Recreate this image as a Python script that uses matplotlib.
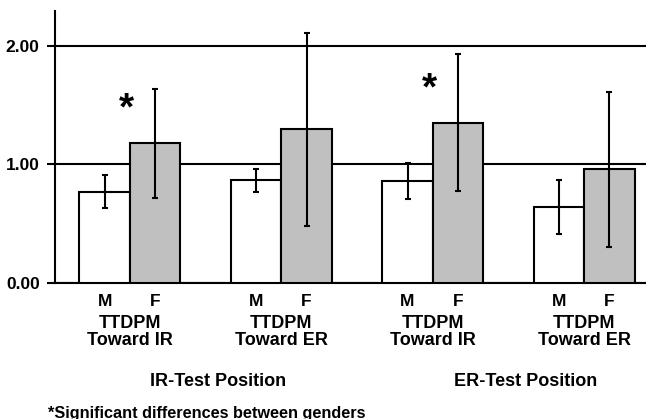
import matplotlib.pyplot as plt
import numpy as np

plt.rcParams['font.family'] = ['Liberation Sans', 'DejaVu Sans']

# values (mean with lower / upper error bar ends)
groups = ['TTDPM\nToward IR', 'TTDPM\nToward ER', 'TTDPM\nToward IR', 'TTDPM\nToward ER']
positions = ['IR-Test Position', 'ER-Test Position']
male = [0.77, 0.87, 0.86, 0.64]
male_lo = [0.63, 0.77, 0.71, 0.41]
male_hi = [0.91, 0.96, 1.01, 0.87]
female = [1.18, 1.30, 1.35, 0.96]
female_lo = [0.72, 0.48, 0.78, 0.30]
female_hi = [1.64, 2.11, 1.93, 1.61]
significant = [True, False, True, False]
yticks = [0.0, 1.0, 2.0]

W, H = 646, 419
fig = plt.figure(figsize=(W / 100, H / 100), dpi=100)
ax = fig.add_axes([55 / W, 1 - 283 / H, 1 - 55 / W, (283 - 11) / H])

x = np.arange(len(groups))
bw = 1 / 3
m = np.array(male)
f = np.array(female)

ax.bar(x - bw / 2, m, bw, color='white', edgecolor='black', linewidth=1.5, zorder=3)
ax.bar(x + bw / 2, f, bw, color='#c0c0c0', edgecolor='black', linewidth=1.5, zorder=3)
ax.errorbar(x - bw / 2, m, yerr=[m - np.array(male_lo), np.array(male_hi) - m],
            fmt='none', ecolor='black', elinewidth=1.5, capsize=2, capthick=1.5, zorder=4)
ax.errorbar(x + bw / 2, f, yerr=[f - np.array(female_lo), np.array(female_hi) - f],
            fmt='none', ecolor='black', elinewidth=1.5, capsize=2, capthick=1.5, zorder=4)

# significance stars
for i, s in enumerate(significant):
    if s:
        ax.text(i - 0.02, f[i] + 0.28, '*', ha='center', va='center',
                fontsize=28, fontweight='bold', zorder=5)

ax.set_xlim(-0.495, 3.408)
ax.set_ylim(0, 2.295)
ax.set_yticks(yticks)
ax.set_yticklabels(['%.2f' % v for v in yticks], fontsize=12.5, fontweight='bold')
ax.set_xticks([])
ax.yaxis.grid(True, color='black', linewidth=1.5)
ax.set_axisbelow(True)
ax.tick_params(axis='y', length=6, width=1.5, pad=5)
for side in ['top', 'right']:
    ax.spines[side].set_visible(False)
for side in ['left', 'bottom']:
    ax.spines[side].set_linewidth(1.5)

# labels under the axis
trans = ax.get_xaxis_transform()
for i, g in enumerate(groups):
    ax.text(i - bw / 2, -(301 - 283) / 272, 'M', transform=trans, ha='center', va='center',
            fontsize=12.5, fontweight='bold')
    ax.text(i + bw / 2, -(301 - 283) / 272, 'F', transform=trans, ha='center', va='center',
            fontsize=12.5, fontweight='bold')
    ax.text(i, -(332 - 283) / 272, g, transform=trans, ha='center', va='center',
            fontsize=13, fontweight='bold', linespacing=1.05)
for j, p in enumerate(positions):
    ax.text(0.58 + 2.03 * j, -(381 - 283) / 272, p, transform=trans, ha='center', va='center',
            fontsize=13, fontweight='bold')

fig.text(48 / W, 1 - 413 / H, '*Significant differences between genders', ha='left', va='center',
         fontsize=11.7, fontweight='bold')

fig.savefig('out.png', dpi=100)
